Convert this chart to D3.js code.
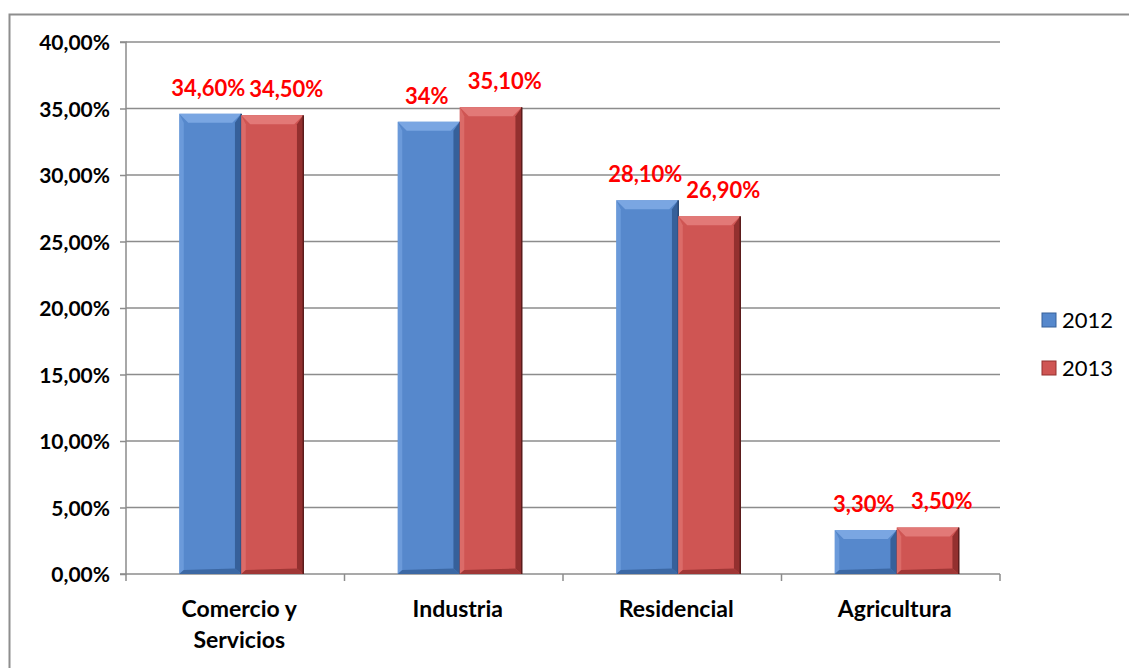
<!DOCTYPE html>
<html>
<head>
<meta charset="utf-8">
<script src="https://cdn.jsdelivr.net/npm/d3@7"></script>
<style>
    body { margin: 0; background: #fff; }
    text { font-family: Lato, "Noto Sans", sans-serif; }
</style>
</head>
<body>
<div id="chart"></div>
<script>
// chart data
const categories = [["Comercio y", "Servicios"], ["Industria"], ["Residencial"], ["Agricultura"]];
const catKeys = ["Comercio y Servicios", "Industria", "Residencial", "Agricultura"];
const years = ["2012", "2013"];
const values2012 = [34.6, 34.0, 28.1, 3.3];
const values2013 = [34.5, 35.1, 26.9, 3.5];
const labels2012 = ["34,60%", "34%", "28,10%", "3,30%"];
const labels2013 = ["34,50%", "35,10%", "26,90%", "3,50%"];
const yTicks = [0, 5, 10, 15, 20, 25, 30, 35, 40];

const W = 1129, H = 668;
const margin = {top: 42, left: 126, right: 129, bottom: 94};
const width = W - margin.left - margin.right;
const height = H - margin.top - margin.bottom;

const svg = d3.select("#chart").append("svg")
    .attr("width", W)
    .attr("height", H);

// outer frame
svg.append("rect")
    .attr("x", 9.5).attr("y", 14.5)
    .attr("width", W + 20).attr("height", H + 20)
    .attr("fill", "none")
    .attr("stroke", "#8e8e8e")
    .attr("stroke-width", 2);

const g = svg.append("g")
    .attr("transform", `translate(${margin.left},${margin.top})`);

const x = d3.scaleBand().domain(catKeys).range([0, width]);
const xInner = d3.scaleBand().domain(years).range([0, 124]);
const y = d3.scaleLinear().domain([0, 40]).range([height, 0]);

// gridlines
g.selectAll(".grid").data(yTicks.slice(1))
    .enter().append("line")
    .attr("class", "grid")
    .attr("x1", 0).attr("x2", width)
    .attr("y1", d => y(d)).attr("y2", d => y(d))
    .attr("stroke", "#8c8c8c")
    .attr("stroke-width", 1.5);

// y axis
const yAxis = d3.axisLeft(y)
    .tickValues(yTicks)
    .tickSize(6)
    .tickPadding(10)
    .tickFormat(d => d3.format(".2f")(d).replace(".", ",") + "%");
const yG = g.append("g").call(yAxis);
yG.select(".domain").attr("stroke", "#8c8c8c").attr("stroke-width", 1.5).attr("d", `M-6,${height}H0V0H-6`);
yG.selectAll(".tick line").attr("stroke", "#8c8c8c").attr("stroke-width", 1.5);
yG.selectAll(".tick text")
    .attr("font-size", 21).attr("font-weight", "bold").attr("fill", "#000")
    .attr("dy", "0.36em")
    .style("font-family", "Lato, sans-serif");

// x axis
const xAxis = d3.axisBottom(x).tickSize(0).tickFormat("");
const xG = g.append("g").attr("transform", `translate(0,${height})`).call(xAxis);
xG.select(".domain").attr("stroke", "#8c8c8c").attr("stroke-width", 1.5).attr("d", `M0,0H${width}`);
xG.selectAll(".sep").data(d3.range(catKeys.length + 1))
    .enter().append("line")
    .attr("class", "sep")
    .attr("x1", i => i * x.step()).attr("x2", i => i * x.step())
    .attr("y1", 0).attr("y2", 7)
    .attr("stroke", "#8c8c8c").attr("stroke-width", 1.5);

// category labels
const catText = g.selectAll(".cat").data(categories)
    .enter().append("text")
    .attr("class", "cat")
    .attr("x", (d, i) => x(catKeys[i]) + x.bandwidth() / 2 + 4)
    .attr("y", height + 43)
    .attr("text-anchor", "middle")
    .attr("font-size", 23).attr("font-weight", "bold");
catText.selectAll("tspan").data(d => d)
    .enter().append("tspan")
    .attr("x", function() { return d3.select(this.parentNode).attr("x"); })
    .attr("dy", (d, i) => i === 0 ? 0 : 31)
    .text(d => d);

// bar data
const bars = [];
catKeys.forEach((c, i) => {
    bars.push({cat: c, year: "2012", v: values2012[i], label: labels2012[i]});
    bars.push({cat: c, year: "2013", v: values2013[i], label: labels2013[i]});
});
const colors = {
    "2012": {base: "#5688cc", light: "#7aa6e2", dark: "#36609a", edge: "#2a4a78"},
    "2013": {base: "#cf5553", light: "#e27977", dark: "#93302f", edge: "#5c1c1c"}
};
const offset = (x.bandwidth() - 124) / 2 + 6;
const bevel = 9;

const barG = g.selectAll(".bar").data(bars)
    .enter().append("g")
    .attr("class", "bar")
    .attr("transform", d => `translate(${x(d.cat) + offset + xInner(d.year)},0)`);

barG.each(function(d) {
    const bg = d3.select(this);
    const w = xInner.bandwidth();
    const top = y(d.v), bot = y(0);
    const b = Math.min(bevel, (bot - top) / 2);
    const c = colors[d.year];
    bg.append("rect")
        .attr("x", 0).attr("y", top)
        .attr("width", w).attr("height", bot - top)
        .attr("fill", c.base);
    // top bevel
    bg.append("polygon")
        .attr("points", [[0, top], [w, top], [w - b, top + b], [b, top + b]].join(" "))
        .attr("fill", c.light);
    // left bevel
    bg.append("polygon")
        .attr("points", [[0, top], [b * 0.5, top + b], [b * 0.5, bot - 4], [0, bot]].join(" "))
        .attr("fill", c.light).attr("opacity", 0.6);
    // right bevel
    bg.append("polygon")
        .attr("points", [[w, top], [w, bot], [w - b * 0.7, bot - b * 0.6], [w - b * 0.7, top + b]].join(" "))
        .attr("fill", c.dark);
    // bottom bevel
    bg.append("polygon")
        .attr("points", [[0, bot], [w, bot], [w - b * 0.7, bot - b * 0.6], [b * 0.5, bot - 4]].join(" "))
        .attr("fill", c.dark).attr("opacity", 0.8);
    bg.append("line")
        .attr("x1", w).attr("x2", w).attr("y1", top).attr("y2", bot)
        .attr("stroke", c.edge).attr("stroke-width", 1.5);
});

// data labels (2013 labels nudged right so they don't collide)
g.selectAll(".lbl").data(bars)
    .enter().append("text")
    .attr("class", "lbl")
    .attr("x", d => x(d.cat) + offset + xInner(d.year) + xInner.bandwidth() / 2 + (d.year === "2013" ? 14 : -2))
    .attr("y", d => y(d.v) - 18)
    .attr("text-anchor", "middle")
    .attr("font-size", 22).attr("font-weight", "bold")
    .attr("fill", "#ff0000")
    .text(d => d.label);

// legend
const legend = svg.selectAll(".legend").data(years)
    .enter().append("g")
    .attr("class", "legend")
    .attr("transform", (d, i) => `translate(1042,${313 + i * 48})`);
legend.append("rect")
    .attr("width", 14).attr("height", 14)
    .attr("fill", d => colors[d].base)
    .attr("stroke", d => colors[d].dark).attr("stroke-width", 1);
legend.append("text")
    .attr("x", 20).attr("y", 15)
    .attr("font-size", 22)
    .text(d => d);
</script>
</body>
</html>
